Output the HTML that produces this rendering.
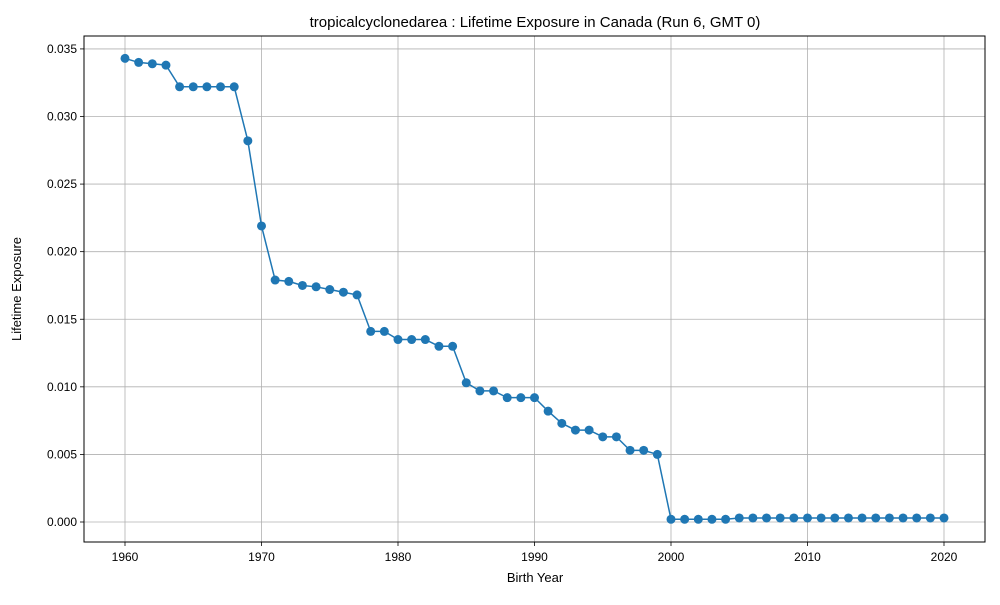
<!DOCTYPE html>
<html><head><meta charset="utf-8"><style>
body{margin:0;background:#fff;font-family:"Liberation Sans","DejaVu Sans",sans-serif;}
svg text{font-family:"Liberation Sans","DejaVu Sans",sans-serif;}
</style></head><body>
<svg id="chart" width="1000" height="600" xmlns="http://www.w3.org/2000/svg"></svg>
<script>
const years = [];
for (let y = 1960; y <= 2020; y++) years.push(y);
const exposure = [0.0343,0.0340,0.0339,0.0338,0.0322,0.0322,0.0322,0.0322,0.0322,0.0282,
0.0219,0.0179,0.0178,0.0175,0.0174,0.0172,0.0170,0.0168,0.0141,0.0141,
0.0135,0.0135,0.0135,0.0130,0.0130,0.0103,0.0097,0.0097,0.0092,0.0092,
0.0092,0.0082,0.0073,0.0068,0.0068,0.0063,0.0063,0.0053,0.0053,0.0050,
0.0002,0.0002,0.0002,0.0002,0.0002,0.0003,0.0003,0.0003,0.0003,0.0003,
0.0003,0.0003,0.0003,0.0003,0.0003,0.0003,0.0003,0.0003,0.0003,0.0003,0.0003];
const xTicks = [1960,1970,1980,1990,2000,2010,2020];
const yTicks = [0,0.005,0.010,0.015,0.020,0.025,0.030,0.035];
const yLabels = ["0.000","0.005","0.010","0.015","0.020","0.025","0.030","0.035"];

const L=84,R=985,T=36,B=542;
const xs = v => 125 + (v-1960)*(944-125)/60;
const ys = v => 522 - v*(522-116.5)/0.03;
const svg = document.getElementById('chart');
const NS='http://www.w3.org/2000/svg';
function mk(tag, attrs, parent){const e=document.createElementNS(NS,tag);for(const k in attrs)e.setAttribute(k,attrs[k]);(parent||svg).appendChild(e);return e;}

const grid = mk('g',{});


xTicks.forEach(t=>{
  mk('line',{x1:xs(t),x2:xs(t),y1:T,y2:B,stroke:'#b0b0b0','stroke-width':0.8},grid);
  mk('line',{x1:xs(t),x2:xs(t),y1:B,y2:B+4,stroke:'#000','stroke-width':0.8},svg);
  const tx=mk('text',{x:xs(t),y:B+19,'text-anchor':'middle','font-size':12});
  tx.textContent=t;
  
  
});
yTicks.forEach((t,i)=>{
  mk('line',{x1:L,x2:R,y1:ys(t),y2:ys(t),stroke:'#b0b0b0','stroke-width':0.8},grid);
  mk('line',{x1:L-4,x2:L,y1:ys(t),y2:ys(t),stroke:'#000','stroke-width':0.8},svg);
  const tx=mk('text',{x:L-7,y:ys(t)+4,'text-anchor':'end','font-size':12});
  tx.textContent=yLabels[i];
  
  
});

const line=mk('polyline',{points:years.map((y,i)=>xs(y)+','+ys(exposure[i])).join(' '),fill:'none',stroke:'#1f77b4','stroke-width':1.5});


years.forEach((y,i)=>{
  const c=mk('circle',{cx:xs(y),cy:ys(exposure[i]),r:4.5,fill:'#1f77b4'});
  
  
});
const frame=mk('rect',{x:L,y:T,width:R-L,height:B-T,fill:'none',stroke:'#000','stroke-width':1});



const title=mk('text',{x:535,y:27,'text-anchor':'middle','font-size':15});
title.textContent='tropicalcyclonedarea : Lifetime Exposure in Canada (Run 6, GMT 0)';


const xt=mk('text',{x:535,y:582,'text-anchor':'middle','font-size':13});
xt.textContent='Birth Year';


const yt=mk('text',{x:21,y:289,'text-anchor':'middle','font-size':13,transform:'rotate(-90 21 289)'});
yt.textContent='Lifetime Exposure';


</script>
</body></html>
